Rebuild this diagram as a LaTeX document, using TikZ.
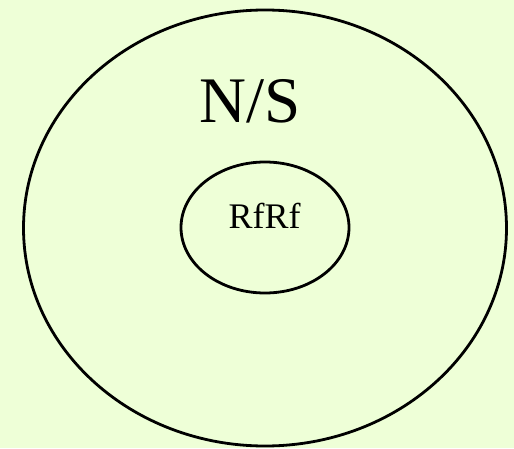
\documentclass[tikz,border=0pt]{standalone}
\usepackage{fontspec}
\setmainfont{Liberation Serif}
\usepackage{tikz}
\usetikzlibrary{shapes.geometric, positioning}
\definecolor{bgcol}{HTML}{EEFFD7}

\begin{document}
\begin{tikzpicture}[x=1pt, y=1pt,
    outer/.style={ellipse, draw=black, line width=2.8pt,
                  minimum width=483pt, minimum height=436pt, inner sep=0pt},
    inner/.style={ellipse, draw=black, line width=2.8pt,
                  minimum width=168pt, minimum height=131pt, inner sep=0pt},
    label/.style={inner sep=0pt, anchor=base}
]
\fill[bgcol] (0,0) rectangle (514,448);
\useasboundingbox (0,0) rectangle (514,448);
\node (setns) [outer] at (265,220) {};
\node (setrf) [inner] at (265,220.5) {};
\node (ns) [label, font=\fontsize{65}{65}\selectfont] at (250,325) {N/S};
\node (rf) [label, font=\fontsize{36}{36}\selectfont] at (264.5,220) {RfRf};
\end{tikzpicture}
\end{document}
